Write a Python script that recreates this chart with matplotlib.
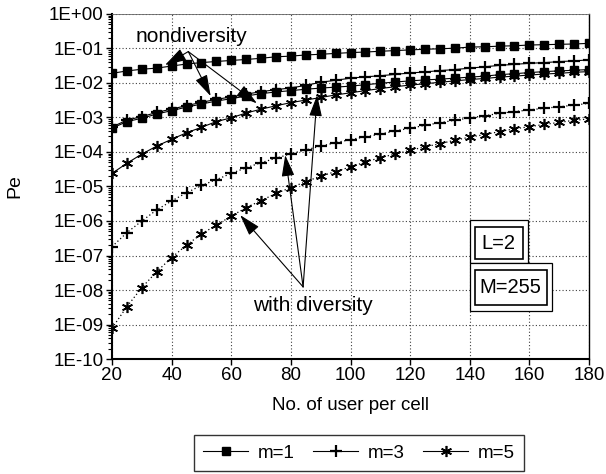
import math
import matplotlib as mpl
import matplotlib.pyplot as plt
from matplotlib.ticker import FixedLocator, FuncFormatter, LogLocator, NullFormatter
from matplotlib.patches import Rectangle

mpl.rcParams.update({
    "font.family": ["Liberation Sans", "DejaVu Sans"],
    "xtick.direction": "out",
    "ytick.direction": "out",
})

# number of users per cell
users = [20, 25, 30, 35, 40, 45, 50, 55, 60, 65, 70, 75, 80, 85, 90, 95, 100,
         105, 110, 115, 120, 125, 130, 135, 140, 145, 150, 155, 160, 165, 170, 175, 180]

# nondiversity curves
pe_nd_m1 = [1.9e-2, 2.24e-2, 2.5e-2, 2.7e-2, 3.1e-2, 3.55e-2, 3.9e-2, 4.2e-2, 4.5e-2, 4.8e-2,
            5.2e-2, 5.75e-2, 6.0e-2, 6.5e-2, 6.8e-2, 7.2e-2, 7.6e-2, 7.9e-2, 8.3e-2, 8.7e-2,
            9.1e-2, 9.5e-2, 9.8e-2, 1.02e-1, 1.10e-1, 1.12e-1, 1.17e-1, 1.20e-1, 1.26e-1,
            1.29e-1, 1.32e-1, 1.35e-1, 1.41e-1]
pe_nd_m3 = [5.3e-4, 8.4e-4, 1.06e-3, 1.40e-3, 1.76e-3, 2.2e-3, 2.75e-3, 3.35e-3, 3.95e-3, 4.75e-3,
            5.6e-3, 6.4e-3, 7.2e-3, 8.5e-3, 1.05e-2, 1.2e-2, 1.38e-2, 1.51e-2, 1.62e-2, 1.78e-2,
            1.95e-2, 2.09e-2, 2.29e-2, 2.45e-2, 2.69e-2, 2.95e-2, 3.24e-2, 3.47e-2, 3.72e-2,
            3.89e-2, 4.17e-2, 4.37e-2, 4.68e-2]
pe_nd_m5 = [2.4e-5, 4.7e-5, 8.7e-5, 1.48e-4, 2.34e-4, 3.6e-4, 5.2e-4, 7.6e-4, 9.8e-4, 1.35e-3,
            1.74e-3, 2.19e-3, 2.69e-3, 3.2e-3, 3.8e-3, 4.5e-3, 5.2e-3, 6.0e-3, 6.9e-3, 7.8e-3,
            8.7e-3, 9.5e-3, 1.05e-2, 1.15e-2, 1.26e-2, 1.35e-2, 1.48e-2, 1.58e-2, 1.70e-2,
            1.82e-2, 1.91e-2, 2.04e-2, 2.14e-2]

# with diversity curves
pe_d_m1 = [4.9e-4, 7.6e-4, 9.5e-4, 1.26e-3, 1.58e-3, 2.0e-3, 2.45e-3, 3.0e-3, 3.5e-3, 4.2e-3,
           4.9e-3, 5.5e-3, 6.0e-3, 6.6e-3, 7.1e-3, 7.6e-3, 8.1e-3, 8.9e-3, 9.8e-3, 1.07e-2,
           1.15e-2, 1.23e-2, 1.29e-2, 1.38e-2, 1.48e-2, 1.58e-2, 1.74e-2, 1.86e-2, 2.0e-2,
           2.14e-2, 2.24e-2, 2.34e-2, 2.45e-2]
pe_d_m3 = [1.8e-7, 4.6e-7, 1.0e-6, 2.1e-6, 3.8e-6, 6.6e-6, 1.07e-5, 1.58e-5, 2.4e-5, 3.5e-5,
           4.9e-5, 6.6e-5, 8.9e-5, 1.15e-4, 1.48e-4, 1.86e-4, 2.29e-4, 2.75e-4, 3.3e-4, 4.1e-4,
           4.9e-4, 5.9e-4, 7.1e-4, 8.3e-4, 9.8e-4, 1.12e-3, 1.32e-3, 1.48e-3, 1.66e-3,
           1.86e-3, 2.04e-3, 2.29e-3, 2.57e-3]
pe_d_m5 = [7.8e-10, 3.3e-9, 1.17e-8, 3.4e-8, 8.7e-8, 2.0e-7, 4.2e-7, 7.6e-7, 1.38e-6, 2.45e-6,
           3.9e-6, 6.3e-6, 9.3e-6, 1.38e-5, 2.0e-5, 2.7e-5, 3.7e-5, 5.1e-5, 6.9e-5, 8.7e-5,
           1.12e-4, 1.41e-4, 1.74e-4, 2.19e-4, 2.69e-4, 3.2e-4, 3.9e-4, 4.7e-4, 5.4e-4,
           6.3e-4, 7.2e-4, 8.3e-4, 9.1e-4]

x_ticks = [20, 40, 60, 80, 100, 120, 140, 160, 180]
star = (6, 2, 0)

fig = plt.figure(figsize=(6.06, 4.74), dpi=100)
ax = fig.add_axes([0.1848, 0.2426, 0.972 - 0.1848, 0.9705 - 0.2426])
ax.set_yscale("log")

sq = dict(marker="s", ms=6, color="black", mec="black", mfc="black")
pl = dict(marker="+", ms=8, mew=1.6, color="black")
st = dict(marker=star, ms=8, mew=1.2, color="black")

h1, = ax.plot(users, pe_nd_m1, lw=0.8, **sq)
h2, = ax.plot(users, pe_nd_m3, lw=0.8, **pl)
h3, = ax.plot(users, pe_nd_m5, lw=0.8, **st)
ax.plot(users, pe_d_m1, lw=0.8, **sq)
ax.plot(users, pe_d_m3, lw=0.9, ls=(0, (1, 2)), **pl)
ax.plot(users, pe_d_m5, lw=0.9, ls=(0, (1, 2)), **st)

ax.set_xlim(20, 180)
ax.set_ylim(1e-10, 1)
ax.xaxis.set_major_locator(FixedLocator(x_ticks))
ax.yaxis.set_major_locator(LogLocator(base=10, numticks=20))
ax.yaxis.set_minor_locator(LogLocator(base=10, subs=range(2, 10), numticks=20))
ax.yaxis.set_minor_formatter(NullFormatter())
ax.yaxis.set_major_formatter(FuncFormatter(lambda v, p: "1E%+03d" % round(math.log10(v))))
ax.tick_params(axis="both", which="major", labelsize=13.5, length=4, width=1, pad=2)
ax.tick_params(axis="y", which="minor", length=3, width=0.8)

ax.grid(True, which="major", ls=(0, (1, 2)), color="0.25", lw=0.8)
for s in ["left", "bottom"]:
    ax.spines[s].set_linewidth(1.5)
ax.spines["right"].set_linewidth(1.0)
ax.spines["top"].set_linewidth(0.6)
ax.spines["top"].set_color("0.4")

ax.set_xlabel("No. of user per cell", fontsize=13.5)
ax.set_ylabel("Pe", fontsize=14)
ax.xaxis.set_label_coords(0.5, -0.11)
ax.yaxis.set_label_coords(-0.185, 0.5)

arrow = dict(arrowstyle="-|>,head_length=0.6,head_width=0.18", color="black",
             lw=0.8, mutation_scale=22, shrinkA=0, shrinkB=0)

ax.text(46.5, 10 ** -0.64, "nondiversity", fontsize=15, ha="center", va="center")
for tip in [(37.8, 10 ** -1.48), (53.1, 10 ** -2.38), (68.6, 10 ** -2.59)]:
    ax.annotate("", xy=tip, xytext=(45.6, 10 ** -1.09), arrowprops=arrow)

ax.text(87.4, 10 ** -8.46, "with diversity", fontsize=15, ha="center", va="center")
for tip in [(63.0, 10 ** -5.83), (78.1, 10 ** -4.09), (88.8, 10 ** -2.35)]:
    ax.annotate("", xy=tip, xytext=(84.1, 10 ** -7.91), arrowprops=arrow)

# parameter boxes (double border)
for (x0, y0, x1, y1) in [(0.751, 0.278, 0.872, 0.403), (0.751, 0.139, 0.922, 0.278)]:
    ax.add_patch(Rectangle((x0, y0), x1 - x0, y1 - y0, transform=ax.transAxes,
                           fc="white", ec="black", lw=0.9, zorder=5))
for (x0, y0, x1, y1) in [(0.761, 0.290, 0.862, 0.383), (0.761, 0.157, 0.912, 0.258)]:
    ax.add_patch(Rectangle((x0, y0), x1 - x0, y1 - y0, transform=ax.transAxes,
                           fc="white", ec="black", lw=1.2, zorder=6))
ax.text(0.811, 0.336, "L=2", transform=ax.transAxes, fontsize=14.5,
        ha="center", va="center", zorder=7)
ax.text(0.836, 0.207, "M=255", transform=ax.transAxes, fontsize=14.5,
        ha="center", va="center", zorder=7)

leg = fig.legend([h1, h2, h3], ["m=1", "m=3", "m=5"], loc="center",
                 bbox_to_anchor=(0.592, 0.044), ncol=3, fontsize=13.5,
                 frameon=True, fancybox=False, edgecolor="black",
                 handlelength=2.4, handletextpad=0.5, columnspacing=1.0,
                 borderpad=0.5)
leg.get_frame().set_linewidth(1.0)

fig.savefig("out.png", dpi=100)
